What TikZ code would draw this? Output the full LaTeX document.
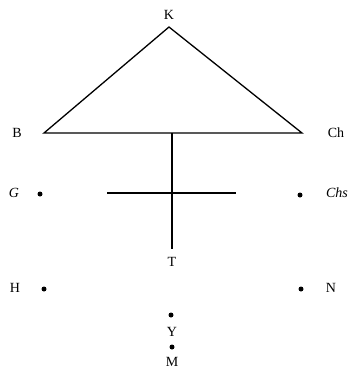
\documentclass[tikz,border=0pt]{standalone}
\usepackage{fontspec}
\setmainfont{Liberation Serif}
\usetikzlibrary{positioning}

\begin{document}
\begin{tikzpicture}[x=1pt, y=-1pt, font=\fontsize{14}{16}\selectfont,
    pt/.style={circle, fill=black, inner sep=0pt, minimum size=5pt},
    lbl/.style={inner sep=1pt},
    ln/.style={line width=1.3pt}]
        \useasboundingbox (0,0) rectangle (352,373);

        % Triangle
        \coordinate (k) at (169,27);
        \coordinate (b) at (44,133);
        \coordinate (ch) at (302,133);
        \draw[ln, line join=miter] (b) -- (k) -- (ch) -- cycle;
        \node[lbl] (Klbl) at (169,15) {K};
        \node[lbl] (Blbl) at (17,133) {B};
        \node[lbl] (Chlbl) at (336,133) {Ch};

        % Stem and crossbar
        \coordinate (top) at (172,133);
        \coordinate (bot) at (172,249);
        \coordinate (cl) at (107,193);
        \coordinate (cr) at (236,193);
        \draw[ln] (top) -- (bot);
        \draw[ln] (cl) -- (cr);
        \node[lbl] (Tlbl) at (172,262) {T};

        % Side points
        \node[pt] (g) at (40,194) {};
        \node[lbl] (Glbl) at (14,193) {\itshape G};
        \node[pt] (chs) at (300,195) {};
        \node[lbl] (Chslbl) at (337,193) {\itshape Chs};
        \node[pt] (h) at (44,289) {};
        \node[lbl] (Hlbl) at (15,288) {H};
        \node[pt] (n) at (301,289) {};
        \node[lbl] (Nlbl) at (331,288) {N};

        % Bottom points
        \node[pt] (y) at (171,315) {};
        \node[lbl] (Ylbl) at (172,332) {Y};
        \node[pt] (m) at (172,347) {};
        \node[lbl] (Mlbl) at (172,362) {M};
\end{tikzpicture}
\end{document}
